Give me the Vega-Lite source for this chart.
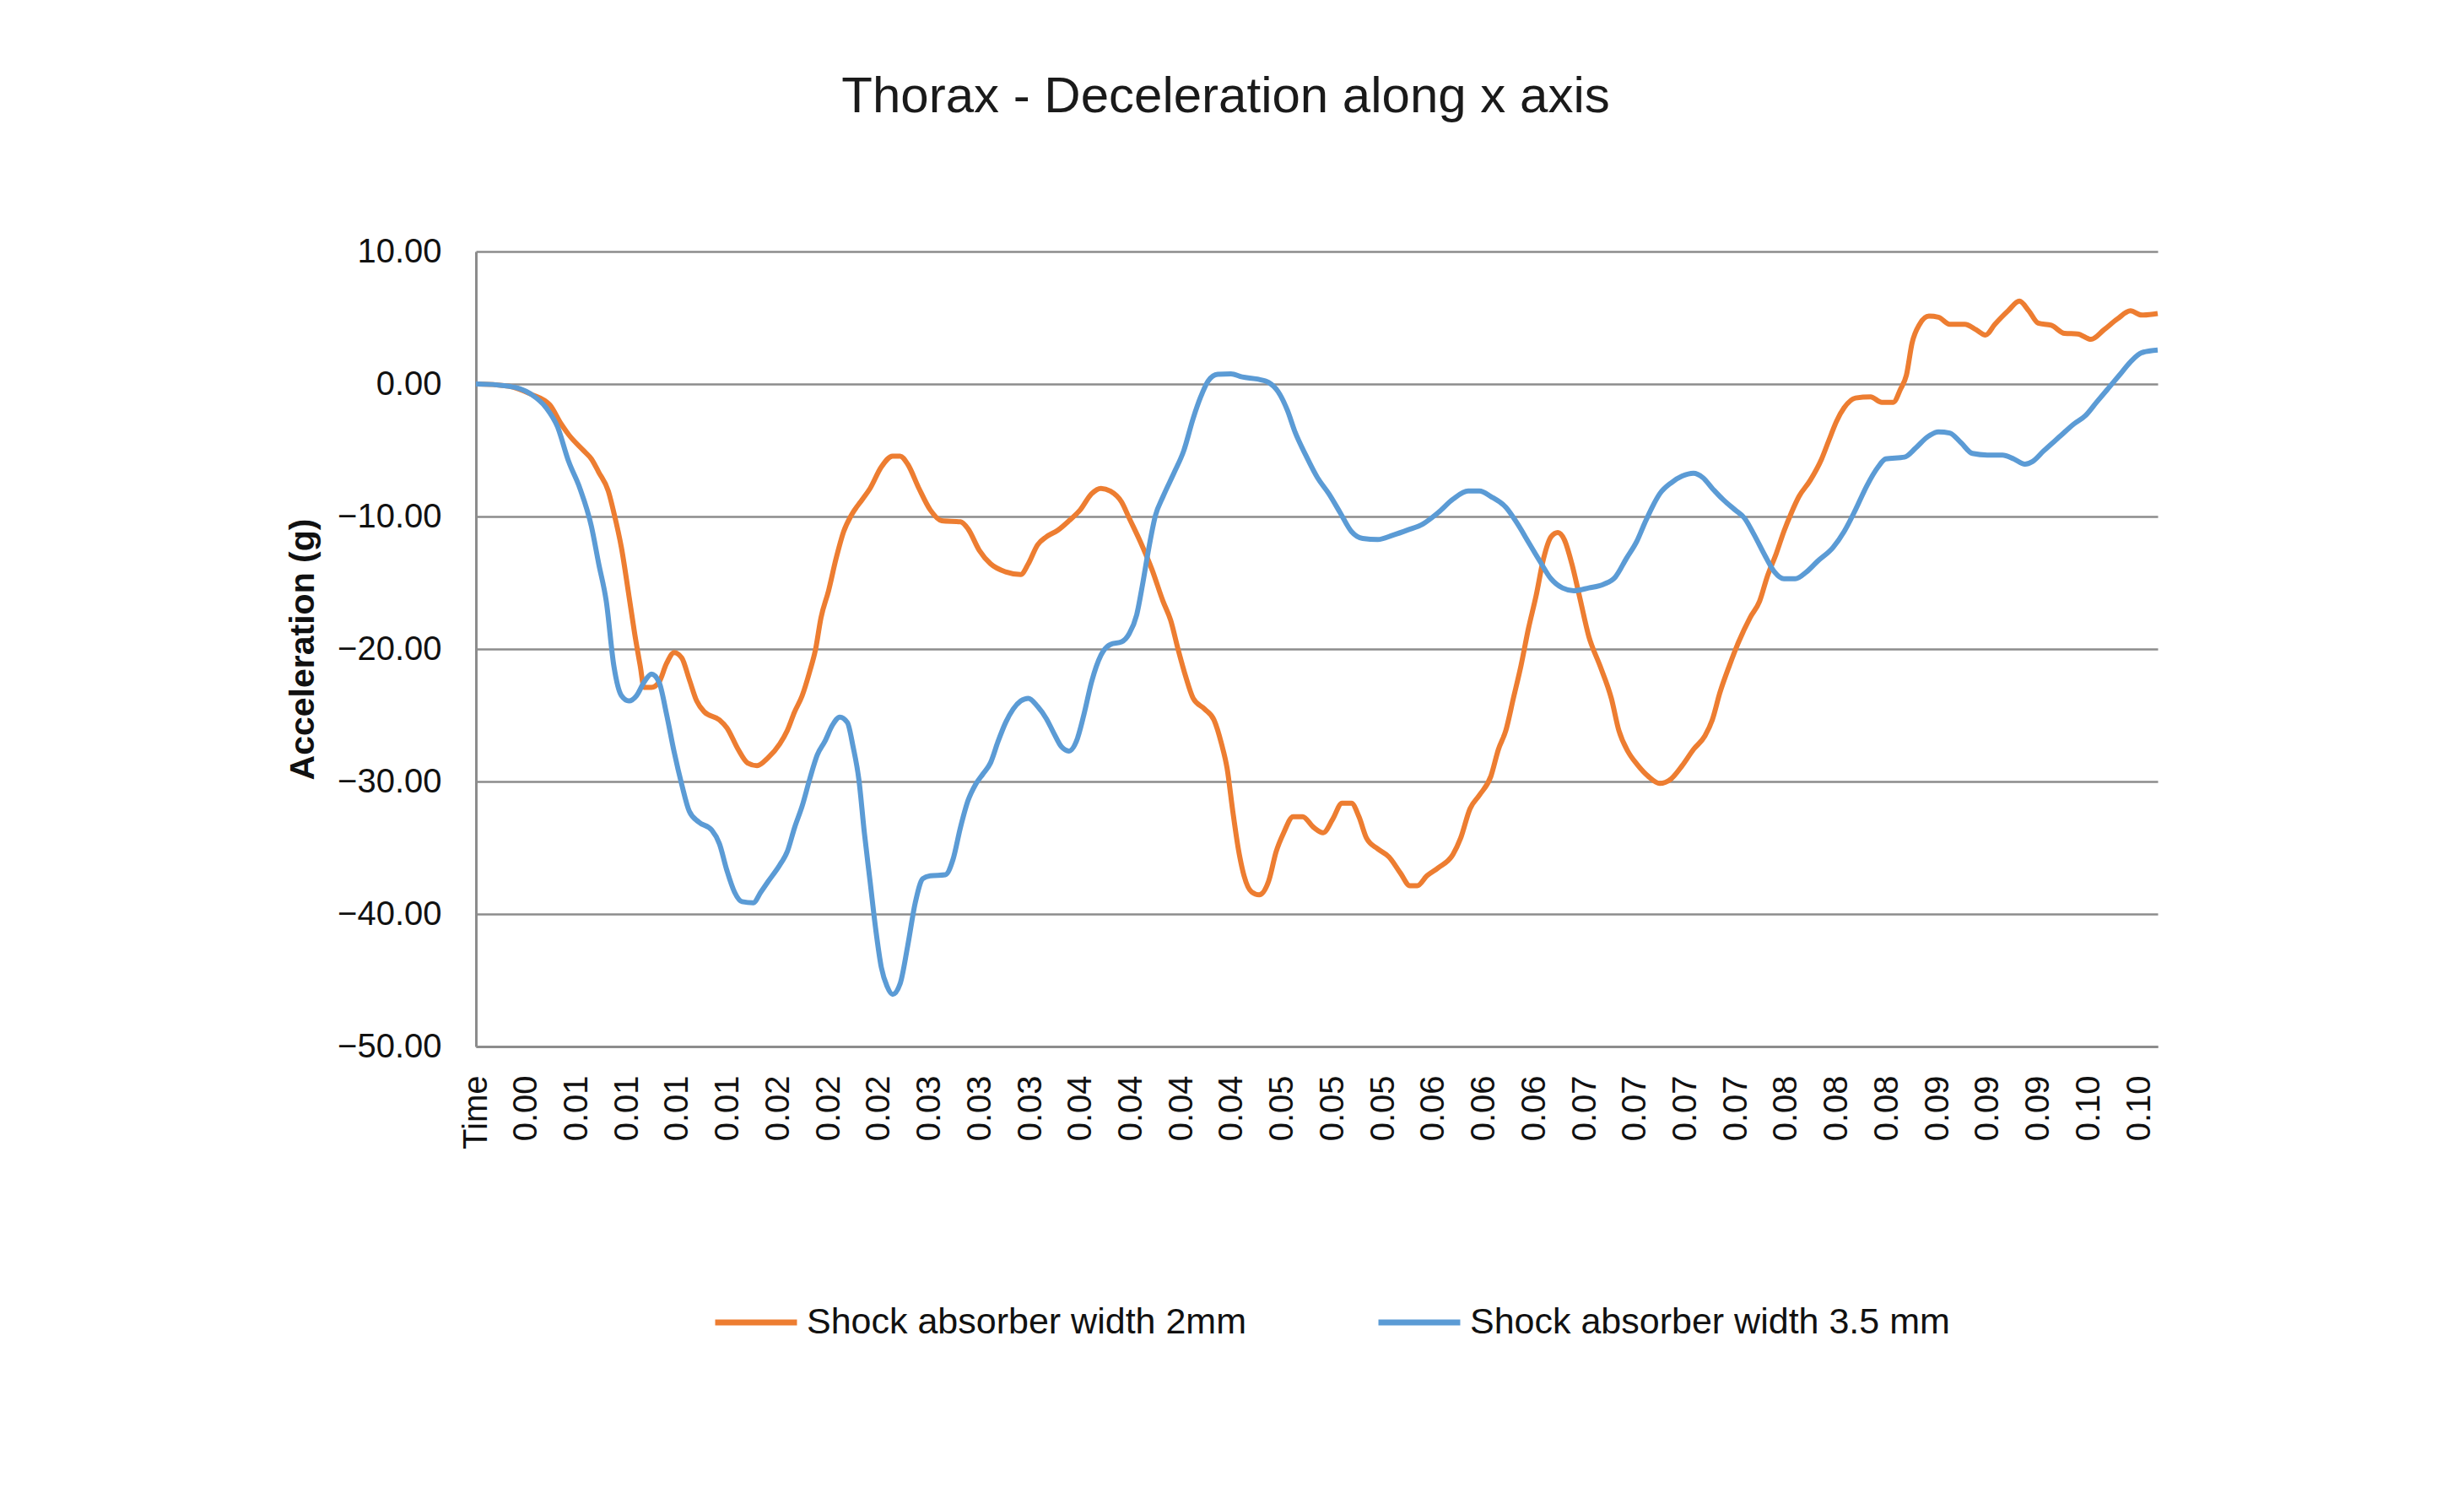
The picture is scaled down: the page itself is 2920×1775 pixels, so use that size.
{
"$schema": "https://vega.github.io/schema/vega-lite/v6.json",
"width": 1993,
"height": 942,
"autosize": {"type": "none"},
"padding": {"left": 564, "top": 298, "right": 363, "bottom": 535},
"background": "white",
"title": {"text": "Thorax - Deceleration along x axis", "font": "Liberation Sans", "fontSize": 60, "fontWeight": "normal", "color": "#1a1a1a", "anchor": "middle", "dx": -108, "offset": 85, "baseline": "alphabetic"},
"data": {"values": [
{"s":"2mm","t":-0.0001,"a":0},{"s":"2mm","t":0,"a":0},{"s":"2mm","t":0.00183,"a":-0.16},{"s":"2mm","t":0.00318,"a":-0.77},{"s":"2mm","t":0.0043,"a":-1.58},{"s":"2mm","t":0.00497,"a":-3.01},{"s":"2mm","t":0.00542,"a":-3.82},{"s":"2mm","t":0.00632,"a":-5.04},{"s":"2mm","t":0.00677,"a":-5.65},{"s":"2mm","t":0.00721,"a":-6.66},{"s":"2mm","t":0.00778,"a":-8.08},{"s":"2mm","t":0.00811,"a":-9.71},{"s":"2mm","t":0.00856,"a":-12.35},{"s":"2mm","t":0.00901,"a":-16.0},{"s":"2mm","t":0.00935,"a":-18.85},{"s":"2mm","t":0.00968,"a":-21.28},{"s":"2mm","t":0.00991,"a":-22.9},{"s":"2mm","t":0.01035,"a":-22.9},{"s":"2mm","t":0.0108,"a":-22.5},{"s":"2mm","t":0.01125,"a":-21.08},{"s":"2mm","t":0.0117,"a":-20.27},{"s":"2mm","t":0.01215,"a":-20.67},{"s":"2mm","t":0.0126,"a":-22.3},{"s":"2mm","t":0.01304,"a":-23.92},{"s":"2mm","t":0.01349,"a":-24.74},{"s":"2mm","t":0.01439,"a":-25.35},{"s":"2mm","t":0.01484,"a":-25.95},{"s":"2mm","t":0.01551,"a":-27.58},{"s":"2mm","t":0.01607,"a":-28.6},{"s":"2mm","t":0.01663,"a":-28.8},{"s":"2mm","t":0.0173,"a":-28.19},{"s":"2mm","t":0.01798,"a":-27.17},{"s":"2mm","t":0.01843,"a":-26.16},{"s":"2mm","t":0.01887,"a":-24.74},{"s":"2mm","t":0.01932,"a":-23.52},{"s":"2mm","t":0.01977,"a":-21.69},{"s":"2mm","t":0.02011,"a":-20.06},{"s":"2mm","t":0.02044,"a":-17.63},{"s":"2mm","t":0.02089,"a":-15.6},{"s":"2mm","t":0.02134,"a":-13.16},{"s":"2mm","t":0.02179,"a":-11.13},{"s":"2mm","t":0.02224,"a":-9.91},{"s":"2mm","t":0.02291,"a":-8.69},{"s":"2mm","t":0.02336,"a":-7.88},{"s":"2mm","t":0.02403,"a":-6.26},{"s":"2mm","t":0.0247,"a":-5.44},{"s":"2mm","t":0.02515,"a":-5.44},{"s":"2mm","t":0.0256,"a":-6.05},{"s":"2mm","t":0.02627,"a":-7.88},{"s":"2mm","t":0.02694,"a":-9.5},{"s":"2mm","t":0.02762,"a":-10.32},{"s":"2mm","t":0.02874,"a":-10.4},{"s":"2mm","t":0.02919,"a":-10.93},{"s":"2mm","t":0.02986,"a":-12.55},{"s":"2mm","t":0.03053,"a":-13.57},{"s":"2mm","t":0.03143,"a":-14.18},{"s":"2mm","t":0.03233,"a":-14.38},{"s":"2mm","t":0.03278,"a":-13.57},{"s":"2mm","t":0.03333,"a":-12.14},{"s":"2mm","t":0.03385,"a":-11.54},{"s":"2mm","t":0.03452,"a":-11.05},{"s":"2mm","t":0.0352,"a":-10.32},{"s":"2mm","t":0.03587,"a":-9.5},{"s":"2mm","t":0.03654,"a":-8.29},{"s":"2mm","t":0.0371,"a":-7.88},{"s":"2mm","t":0.03766,"a":-8.08},{"s":"2mm","t":0.03833,"a":-8.9},{"s":"2mm","t":0.03878,"a":-10.11},{"s":"2mm","t":0.03946,"a":-11.94},{"s":"2mm","t":0.04013,"a":-13.97},{"s":"2mm","t":0.0408,"a":-16.41},{"s":"2mm","t":0.04125,"a":-17.83},{"s":"2mm","t":0.0417,"a":-20.06},{"s":"2mm","t":0.04215,"a":-22.1},{"s":"2mm","t":0.04259,"a":-23.72},{"s":"2mm","t":0.04327,"a":-24.53},{"s":"2mm","t":0.04383,"a":-25.35},{"s":"2mm","t":0.04428,"a":-27.17},{"s":"2mm","t":0.04461,"a":-29.0},{"s":"2mm","t":0.04495,"a":-32.25},{"s":"2mm","t":0.04528,"a":-35.09},{"s":"2mm","t":0.04562,"a":-37.12},{"s":"2mm","t":0.04607,"a":-38.34},{"s":"2mm","t":0.04652,"a":-38.55},{"s":"2mm","t":0.04708,"a":-37.53},{"s":"2mm","t":0.04753,"a":-35.3},{"s":"2mm","t":0.04798,"a":-33.87},{"s":"2mm","t":0.04854,"a":-32.66},{"s":"2mm","t":0.0491,"a":-32.66},{"s":"2mm","t":0.04977,"a":-33.47},{"s":"2mm","t":0.05033,"a":-33.87},{"s":"2mm","t":0.05089,"a":-32.86},{"s":"2mm","t":0.05145,"a":-31.64},{"s":"2mm","t":0.05201,"a":-31.64},{"s":"2mm","t":0.05246,"a":-32.66},{"s":"2mm","t":0.05291,"a":-34.28},{"s":"2mm","t":0.05358,"a":-35.09},{"s":"2mm","t":0.05425,"a":-35.7},{"s":"2mm","t":0.05493,"a":-36.92},{"s":"2mm","t":0.05549,"a":-37.86},{"s":"2mm","t":0.05593,"a":-37.86},{"s":"2mm","t":0.0565,"a":-37.12},{"s":"2mm","t":0.05717,"a":-36.52},{"s":"2mm","t":0.05806,"a":-35.5},{"s":"2mm","t":0.05851,"a":-34.28},{"s":"2mm","t":0.05907,"a":-32.05},{"s":"2mm","t":0.05963,"a":-31.03},{"s":"2mm","t":0.06031,"a":-29.61},{"s":"2mm","t":0.06076,"a":-27.58},{"s":"2mm","t":0.0612,"a":-26.16},{"s":"2mm","t":0.06165,"a":-23.72},{"s":"2mm","t":0.0621,"a":-21.28},{"s":"2mm","t":0.06255,"a":-18.44},{"s":"2mm","t":0.063,"a":-16.0},{"s":"2mm","t":0.06345,"a":-13.16},{"s":"2mm","t":0.06389,"a":-11.54},{"s":"2mm","t":0.0643,"a":-11.21},{"s":"2mm","t":0.06468,"a":-11.74},{"s":"2mm","t":0.06513,"a":-13.57},{"s":"2mm","t":0.06558,"a":-16.0},{"s":"2mm","t":0.06614,"a":-19.05},{"s":"2mm","t":0.06681,"a":-21.28},{"s":"2mm","t":0.06748,"a":-23.72},{"s":"2mm","t":0.06793,"a":-26.16},{"s":"2mm","t":0.06849,"a":-27.78},{"s":"2mm","t":0.06901,"a":-28.7},{"s":"2mm","t":0.06968,"a":-29.61},{"s":"2mm","t":0.07036,"a":-30.14},{"s":"2mm","t":0.07103,"a":-29.81},{"s":"2mm","t":0.0717,"a":-28.8},{"s":"2mm","t":0.07237,"a":-27.58},{"s":"2mm","t":0.07305,"a":-26.56},{"s":"2mm","t":0.07349,"a":-25.35},{"s":"2mm","t":0.07394,"a":-23.31},{"s":"2mm","t":0.0745,"a":-21.28},{"s":"2mm","t":0.07506,"a":-19.46},{"s":"2mm","t":0.07574,"a":-17.63},{"s":"2mm","t":0.0763,"a":-16.41},{"s":"2mm","t":0.07675,"a":-14.58},{"s":"2mm","t":0.07731,"a":-12.75},{"s":"2mm","t":0.07775,"a":-11.13},{"s":"2mm","t":0.0782,"a":-9.71},{"s":"2mm","t":0.07865,"a":-8.49},{"s":"2mm","t":0.07932,"a":-7.27},{"s":"2mm","t":0.08,"a":-5.65},{"s":"2mm","t":0.08044,"a":-4.22},{"s":"2mm","t":0.08089,"a":-2.8},{"s":"2mm","t":0.08134,"a":-1.79},{"s":"2mm","t":0.08201,"a":-1.06},{"s":"2mm","t":0.08291,"a":-0.97},{"s":"2mm","t":0.08358,"a":-1.38},{"s":"2mm","t":0.08426,"a":-1.38},{"s":"2mm","t":0.0847,"a":-0.37},{"s":"2mm","t":0.08504,"a":0.65},{"s":"2mm","t":0.08538,"a":3.09},{"s":"2mm","t":0.08583,"a":4.51},{"s":"2mm","t":0.08639,"a":5.12},{"s":"2mm","t":0.08695,"a":5.04},{"s":"2mm","t":0.08762,"a":4.51},{"s":"2mm","t":0.08852,"a":4.51},{"s":"2mm","t":0.08919,"a":4.1},{"s":"2mm","t":0.08975,"a":3.7},{"s":"2mm","t":0.09031,"a":4.51},{"s":"2mm","t":0.09109,"a":5.52},{"s":"2mm","t":0.09177,"a":6.26},{"s":"2mm","t":0.09233,"a":5.52},{"s":"2mm","t":0.09289,"a":4.59},{"s":"2mm","t":0.09367,"a":4.43},{"s":"2mm","t":0.09446,"a":3.82},{"s":"2mm","t":0.09524,"a":3.78},{"s":"2mm","t":0.09603,"a":3.37},{"s":"2mm","t":0.09681,"a":4.1},{"s":"2mm","t":0.0976,"a":4.91},{"s":"2mm","t":0.09838,"a":5.52},{"s":"2mm","t":0.09905,"a":5.2},{"s":"2mm","t":0.1,"a":5.32},
{"s":"3.5 mm","t":-0.0001,"a":0},{"s":"3.5 mm","t":0,"a":0},{"s":"3.5 mm","t":0.00183,"a":-0.16},{"s":"3.5 mm","t":0.00318,"a":-0.77},{"s":"3.5 mm","t":0.00408,"a":-1.79},{"s":"3.5 mm","t":0.00475,"a":-3.21},{"s":"3.5 mm","t":0.00542,"a":-5.85},{"s":"3.5 mm","t":0.00609,"a":-7.88},{"s":"3.5 mm","t":0.00677,"a":-10.72},{"s":"3.5 mm","t":0.00721,"a":-13.57},{"s":"3.5 mm","t":0.00766,"a":-16.41},{"s":"3.5 mm","t":0.00811,"a":-21.28},{"s":"3.5 mm","t":0.00856,"a":-23.52},{"s":"3.5 mm","t":0.00901,"a":-23.92},{"s":"3.5 mm","t":0.00946,"a":-23.52},{"s":"3.5 mm","t":0.00991,"a":-22.5},{"s":"3.5 mm","t":0.01035,"a":-21.89},{"s":"3.5 mm","t":0.0108,"a":-22.5},{"s":"3.5 mm","t":0.01125,"a":-24.94},{"s":"3.5 mm","t":0.0117,"a":-27.78},{"s":"3.5 mm","t":0.01215,"a":-30.22},{"s":"3.5 mm","t":0.0126,"a":-32.25},{"s":"3.5 mm","t":0.01316,"a":-33.06},{"s":"3.5 mm","t":0.01394,"a":-33.67},{"s":"3.5 mm","t":0.01439,"a":-34.69},{"s":"3.5 mm","t":0.01484,"a":-36.72},{"s":"3.5 mm","t":0.01529,"a":-38.34},{"s":"3.5 mm","t":0.01574,"a":-39.07},{"s":"3.5 mm","t":0.01641,"a":-39.15},{"s":"3.5 mm","t":0.01686,"a":-38.34},{"s":"3.5 mm","t":0.0173,"a":-37.53},{"s":"3.5 mm","t":0.01798,"a":-36.31},{"s":"3.5 mm","t":0.01843,"a":-35.3},{"s":"3.5 mm","t":0.01887,"a":-33.47},{"s":"3.5 mm","t":0.01932,"a":-31.84},{"s":"3.5 mm","t":0.01977,"a":-29.81},{"s":"3.5 mm","t":0.02022,"a":-27.99},{"s":"3.5 mm","t":0.02067,"a":-26.97},{"s":"3.5 mm","t":0.02112,"a":-25.75},{"s":"3.5 mm","t":0.02156,"a":-25.14},{"s":"3.5 mm","t":0.02201,"a":-25.55},{"s":"3.5 mm","t":0.02235,"a":-27.38},{"s":"3.5 mm","t":0.02269,"a":-29.81},{"s":"3.5 mm","t":0.02302,"a":-33.87},{"s":"3.5 mm","t":0.02336,"a":-37.53},{"s":"3.5 mm","t":0.0237,"a":-41.19},{"s":"3.5 mm","t":0.02403,"a":-44.03},{"s":"3.5 mm","t":0.02437,"a":-45.45},{"s":"3.5 mm","t":0.0247,"a":-46.06},{"s":"3.5 mm","t":0.02515,"a":-45.25},{"s":"3.5 mm","t":0.0256,"a":-42.4},{"s":"3.5 mm","t":0.02605,"a":-39.15},{"s":"3.5 mm","t":0.0265,"a":-37.33},{"s":"3.5 mm","t":0.02694,"a":-37.12},{"s":"3.5 mm","t":0.02784,"a":-37.04},{"s":"3.5 mm","t":0.02829,"a":-35.91},{"s":"3.5 mm","t":0.02874,"a":-33.47},{"s":"3.5 mm","t":0.02919,"a":-31.44},{"s":"3.5 mm","t":0.02964,"a":-30.22},{"s":"3.5 mm","t":0.03009,"a":-29.41},{"s":"3.5 mm","t":0.03053,"a":-28.59},{"s":"3.5 mm","t":0.03098,"a":-26.97},{"s":"3.5 mm","t":0.03143,"a":-25.55},{"s":"3.5 mm","t":0.03188,"a":-24.53},{"s":"3.5 mm","t":0.03233,"a":-23.92},{"s":"3.5 mm","t":0.03278,"a":-23.72},{"s":"3.5 mm","t":0.03333,"a":-24.33},{"s":"3.5 mm","t":0.03385,"a":-25.25},{"s":"3.5 mm","t":0.0343,"a":-26.36},{"s":"3.5 mm","t":0.03475,"a":-27.38},{"s":"3.5 mm","t":0.0352,"a":-27.7},{"s":"3.5 mm","t":0.03564,"a":-26.97},{"s":"3.5 mm","t":0.03609,"a":-24.94},{"s":"3.5 mm","t":0.03654,"a":-22.5},{"s":"3.5 mm","t":0.0371,"a":-20.47},{"s":"3.5 mm","t":0.03766,"a":-19.66},{"s":"3.5 mm","t":0.03833,"a":-19.46},{"s":"3.5 mm","t":0.03878,"a":-18.85},{"s":"3.5 mm","t":0.03923,"a":-17.42},{"s":"3.5 mm","t":0.03957,"a":-15.19},{"s":"3.5 mm","t":0.0399,"a":-12.75},{"s":"3.5 mm","t":0.04035,"a":-9.91},{"s":"3.5 mm","t":0.0408,"a":-8.49},{"s":"3.5 mm","t":0.04147,"a":-6.66},{"s":"3.5 mm","t":0.04203,"a":-5.04},{"s":"3.5 mm","t":0.04259,"a":-2.6},{"s":"3.5 mm","t":0.04304,"a":-0.97},{"s":"3.5 mm","t":0.04349,"a":0.24},{"s":"3.5 mm","t":0.04405,"a":0.73},{"s":"3.5 mm","t":0.04484,"a":0.77},{"s":"3.5 mm","t":0.04551,"a":0.53},{"s":"3.5 mm","t":0.04641,"a":0.37},{"s":"3.5 mm","t":0.04708,"a":0.12},{"s":"3.5 mm","t":0.04764,"a":-0.57},{"s":"3.5 mm","t":0.0482,"a":-1.99},{"s":"3.5 mm","t":0.04865,"a":-3.61},{"s":"3.5 mm","t":0.04932,"a":-5.44},{"s":"3.5 mm","t":0.04999,"a":-7.07},{"s":"3.5 mm","t":0.05067,"a":-8.29},{"s":"3.5 mm","t":0.05134,"a":-9.71},{"s":"3.5 mm","t":0.05201,"a":-11.13},{"s":"3.5 mm","t":0.05268,"a":-11.66},{"s":"3.5 mm","t":0.05358,"a":-11.74},{"s":"3.5 mm","t":0.05448,"a":-11.41},{"s":"3.5 mm","t":0.05537,"a":-11.01},{"s":"3.5 mm","t":0.05627,"a":-10.56},{"s":"3.5 mm","t":0.05717,"a":-9.71},{"s":"3.5 mm","t":0.05806,"a":-8.69},{"s":"3.5 mm","t":0.05896,"a":-8.08},{"s":"3.5 mm","t":0.05963,"a":-8.08},{"s":"3.5 mm","t":0.06031,"a":-8.49},{"s":"3.5 mm","t":0.0612,"a":-9.3},{"s":"3.5 mm","t":0.06188,"a":-10.52},{"s":"3.5 mm","t":0.06255,"a":-11.94},{"s":"3.5 mm","t":0.06322,"a":-13.36},{"s":"3.5 mm","t":0.06389,"a":-14.7},{"s":"3.5 mm","t":0.06457,"a":-15.39},{"s":"3.5 mm","t":0.06524,"a":-15.6},{"s":"3.5 mm","t":0.06614,"a":-15.39},{"s":"3.5 mm","t":0.06703,"a":-15.11},{"s":"3.5 mm","t":0.06771,"a":-14.58},{"s":"3.5 mm","t":0.06838,"a":-13.16},{"s":"3.5 mm","t":0.06901,"a":-11.84},{"s":"3.5 mm","t":0.06946,"a":-10.52},{"s":"3.5 mm","t":0.06991,"a":-9.3},{"s":"3.5 mm","t":0.07036,"a":-8.29},{"s":"3.5 mm","t":0.07103,"a":-7.47},{"s":"3.5 mm","t":0.0717,"a":-6.95},{"s":"3.5 mm","t":0.07237,"a":-6.74},{"s":"3.5 mm","t":0.07293,"a":-7.07},{"s":"3.5 mm","t":0.07349,"a":-7.88},{"s":"3.5 mm","t":0.07417,"a":-8.77},{"s":"3.5 mm","t":0.07484,"a":-9.5},{"s":"3.5 mm","t":0.0754,"a":-10.11},{"s":"3.5 mm","t":0.07596,"a":-11.33},{"s":"3.5 mm","t":0.07663,"a":-12.96},{"s":"3.5 mm","t":0.07719,"a":-14.18},{"s":"3.5 mm","t":0.07775,"a":-14.7},{"s":"3.5 mm","t":0.07843,"a":-14.7},{"s":"3.5 mm","t":0.0791,"a":-14.18},{"s":"3.5 mm","t":0.07977,"a":-13.36},{"s":"3.5 mm","t":0.08067,"a":-12.35},{"s":"3.5 mm","t":0.08134,"a":-11.13},{"s":"3.5 mm","t":0.08201,"a":-9.5},{"s":"3.5 mm","t":0.08269,"a":-7.68},{"s":"3.5 mm","t":0.08336,"a":-6.26},{"s":"3.5 mm","t":0.08381,"a":-5.65},{"s":"3.5 mm","t":0.08493,"a":-5.52},{"s":"3.5 mm","t":0.0856,"a":-4.83},{"s":"3.5 mm","t":0.08627,"a":-4.02},{"s":"3.5 mm","t":0.08695,"a":-3.61},{"s":"3.5 mm","t":0.08762,"a":-3.7},{"s":"3.5 mm","t":0.08829,"a":-4.43},{"s":"3.5 mm","t":0.08897,"a":-5.24},{"s":"3.5 mm","t":0.08986,"a":-5.36},{"s":"3.5 mm","t":0.09076,"a":-5.36},{"s":"3.5 mm","t":0.09143,"a":-5.65},{"s":"3.5 mm","t":0.0921,"a":-6.05},{"s":"3.5 mm","t":0.09255,"a":-5.85},{"s":"3.5 mm","t":0.09322,"a":-5.04},{"s":"3.5 mm","t":0.09412,"a":-4.02},{"s":"3.5 mm","t":0.09502,"a":-3.01},{"s":"3.5 mm","t":0.09569,"a":-2.4},{"s":"3.5 mm","t":0.09636,"a":-1.38},{"s":"3.5 mm","t":0.09703,"a":-0.37},{"s":"3.5 mm","t":0.09771,"a":0.65},{"s":"3.5 mm","t":0.09838,"a":1.67},{"s":"3.5 mm","t":0.09905,"a":2.36},{"s":"3.5 mm","t":0.1,"a":2.56}
]},
"mark": {"type": "line", "strokeWidth": 6, "interpolate": "monotone"},
"encoding": {
"x": {"field": "t", "type": "quantitative", "scale": {"domain": [-0.0001, 0.1], "nice": false, "zero": false},
"axis": {"title": null, "values": [-0.0001,0.0029,0.0059,0.0089,0.0119,0.0149,0.0179,0.0209,0.0239,0.0269,0.0299,0.0329,0.0359,0.0389,0.0419,0.0449,0.0479,0.0509,0.0539,0.0569,0.0599,0.0629,0.0659,0.0689,0.0719,0.0749,0.0779,0.0809,0.0839,0.0869,0.0899,0.0929,0.0959,0.0989],
"labelExpr": "datum.value < 0 ? 'Time' : format(datum.value, '.2f')", "labelAngle": -90, "labelFontSize": 40, "labelColor": "#111", "labelPadding": 34, "ticks": false, "tickSize": 0, "grid": false, "domainColor": "#8c8c8c", "domainWidth": 3, "labelOverlap": false, "labelFlush": false, "labelBound": false}},
"y": {"field": "a", "type": "quantitative", "scale": {"domain": [-50, 10], "nice": false, "zero": false},
"axis": {"title": "Acceleration (g)", "values": [-50,-40,-30,-20,-10,0,10], "format": ".2f", "labelFontSize": 40, "labelColor": "#111", "labelPadding": 41, "ticks": false, "tickSize": 0, "grid": true, "gridColor": "#8c8c8c", "gridWidth": 2.5, "domainColor": "#8c8c8c", "domainWidth": 3, "titleFontSize": 41, "titleFontWeight": "bold", "titleColor": "#111", "titlePadding": 19, "labelFlush": false}},
"color": {"field": "s", "type": "nominal", "scale": {"domain": ["2mm", "3.5 mm"], "range": ["#ED7D31", "#5B9BD5"]},
"legend": {"title": null, "orient": "none", "legendX": 280, "legendY": 1217, "direction": "horizontal", "symbolType": "stroke", "symbolSize": 9400, "symbolStrokeWidth": 7, "labelFontSize": 43, "labelColor": "#111", "labelOffset": 8, "columnPadding": 142, "labelExpr": "'Shock absorber width ' + datum.value", "padding": 0, "labelLimit": 2000}}
},
"config": {"view": {"stroke": null}, "font": "Liberation Sans", "axis": {"labelFont": "Liberation Sans", "titleFont": "Liberation Sans"}, "legend": {"labelFont": "Liberation Sans"}}
}
